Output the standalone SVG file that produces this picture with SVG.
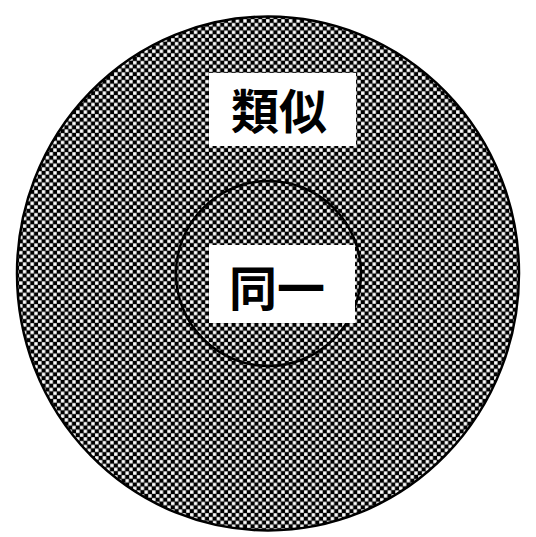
<svg xmlns="http://www.w3.org/2000/svg" width="536" height="537" viewBox="0 0 536 537">
  <style>
    .ring { stroke: #000; stroke-width: 2.5; }
    .box { fill: #fff; stroke: none; }
    .lbl { font-family: "Noto Sans CJK JP", "Noto Sans CJK SC", sans-serif; font-weight: 700; font-size: 48px; fill: #000; text-anchor: middle; }
  </style>
  <defs>
    <pattern id="checker" x="0" y="0" width="7.6" height="7.6" patternUnits="userSpaceOnUse">
      <rect width="7.6" height="7.6" fill="#000"/>
      <rect x="3.9" y="0.2" width="3.4" height="3.4" fill="#fff"/>
      <rect x="0.1" y="4" width="3.4" height="3.4" fill="#fff"/>
    </pattern>
  </defs>
  <rect width="536" height="537" fill="#fff"/>
  <g id="outer">
    <ellipse class="ring" cx="268" cy="273.5" rx="251" ry="257" fill="url(#checker)"/>
  </g>
  <g id="inner">
    <circle class="ring" cx="268.5" cy="273.5" r="92.5" fill="none" stroke-width="2"/>
  </g>
  <g id="label-similar">
    <rect class="box" x="209" y="73" width="147" height="73"/>
    <text class="lbl" x="279" y="129">類似</text>
  </g>
  <g id="label-same">
    <rect class="box" x="209" y="245" width="146" height="78"/>
    <text class="lbl" x="277" y="306">同一</text>
  </g>
  <g id="connectors"></g>
</svg>
